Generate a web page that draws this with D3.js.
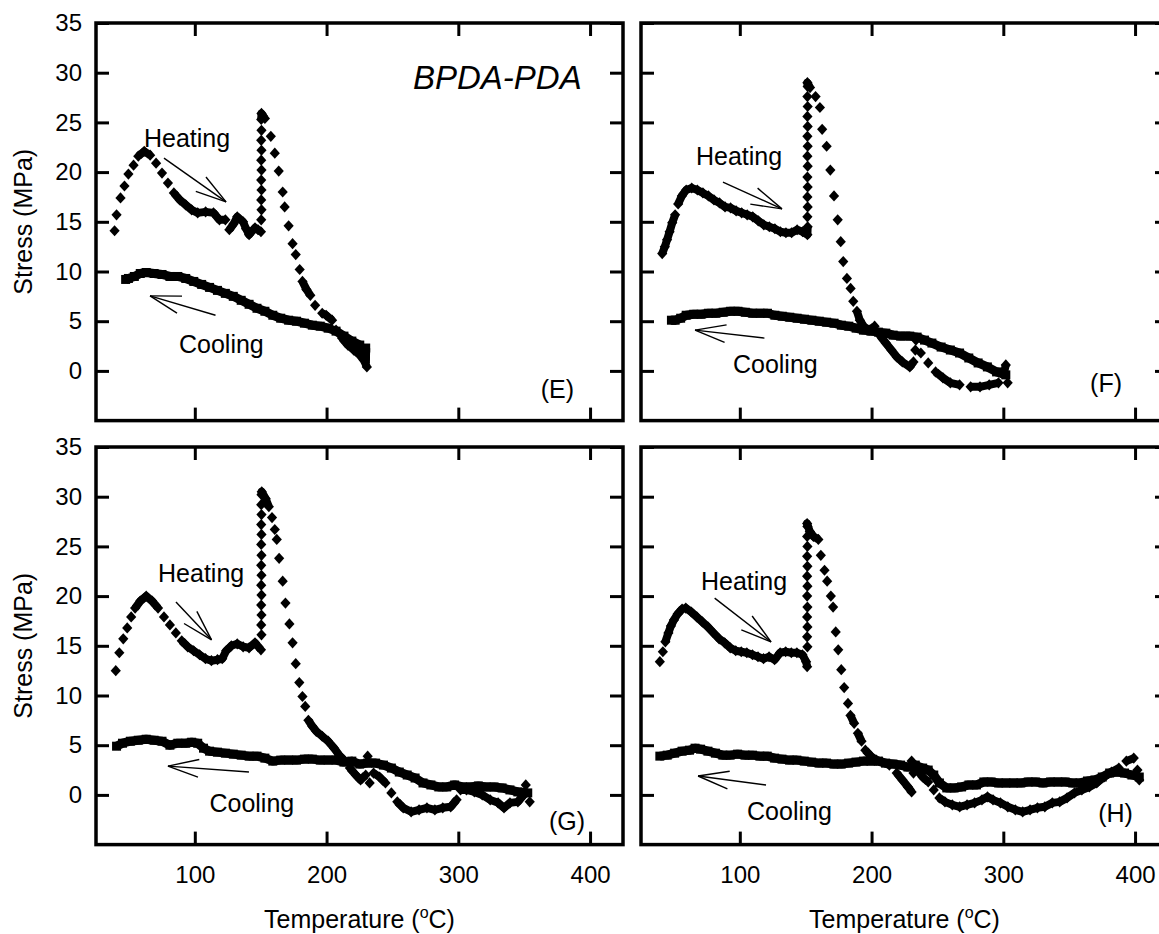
<!DOCTYPE html>
<html>
<head>
<meta charset="utf-8">
<script src="https://cdn.jsdelivr.net/npm/d3@7"></script>
<style>
  body { margin: 0; background: #fff; }
  svg { display: block; }
  text { font-family: "Liberation Sans", Arial, sans-serif; fill: #000; }
</style>
</head>
<body>
<div id="chart-area"></div>
<script>
// axis ticks
var tempTicks = [100, 200, 300, 400];
var stressTicks = [0, 5, 10, 15, 20, 25, 30, 35];

// [temperature (C), stress (MPa)]
var heatE = [[39.1,14.1],[40.6,15.7],[43.6,17.4],[46.6,18.6],[49.6,19.8],[53.5,20.7],[57.1,21.6],[61.6,22.1],[66.1,21.7],[70.6,20.9],
  [75.1,19.9],[79.6,18.9],[84.1,17.9],[88.6,17.2],[93.1,16.7],[97.6,16.2],[102.2,15.9],[108.2,16.0],[114.2,15.9],[118.7,15.2],
  [123.2,15.2],[126.2,14.2],[129.5,14.8],[132.2,15.5],[136.6,15.0],[138.9,14.3],[141.2,13.7],[145.7,14.4],[148.0,14.2],[150.2,14.0],
  [150.4,15.2],[150.6,16.2],[150.4,17.2],[150.6,18.2],[150.4,19.2],[150.6,20.2],[150.4,21.2],[150.6,22.2],[150.4,23.2],
  [150.6,24.2],[150.4,25.3],[150.6,25.9],
  [153.2,25.4],[157.7,23.6],[160.7,21.9],[163.7,20.1],[166.7,18.0],[168.2,16.5],[171.2,14.6],[174.2,12.8],[176.6,11.7],
  [179.6,10.2],[181.7,9.0],[184.7,8.2],[187.7,7.6],[191.3,6.6],[196.7,5.8],[199.7,5.6],[204.2,5.1],[207.2,4.1],[211.7,3.3],
  [216.2,2.6],[220.7,2.1],[225.2,1.6],[228.2,1.1],[230.6,0.4]];
var coolE = [[229.7,2.3],[229.5,1.2],[225.2,2.6],[219.2,3.0],[213.2,3.5],[207.2,4.0],[201.2,4.3],[195.2,4.5],[189.2,4.6],[183.2,4.8],
  [177.2,5.0],[171.2,5.1],[165.2,5.3],[159.2,5.6],[153.2,6.0],[147.2,6.3],[141.2,6.7],[135.2,7.1],[129.2,7.5],[123.2,7.8],
  [117.2,8.1],[111.2,8.4],[105.2,8.7],[99.2,9.0],[93.1,9.3],[87.1,9.5],[81.1,9.5],[75.1,9.7],[69.1,9.8],[63.1,9.9],
  [58.6,9.8],[54.1,9.5],[49.6,9.3],[47.5,9.2]];

var heatF = [[41.1,11.8],[43.1,12.5],[44.8,13.2],[46.7,14.0],[48.7,14.9],[50.9,15.7],[53.2,16.8],[56.0,17.6],[59.3,18.2],[63.5,18.4],
  [67.8,18.2],[72.0,17.9],[76.2,17.6],[80.4,17.2],[84.6,16.9],[88.8,16.5],[93.0,16.4],[97.2,16.1],[101.4,15.9],[105.6,15.7],
  [109.8,15.5],[114.0,15.1],[118.2,14.7],[122.4,14.5],[126.6,14.3],[130.8,14.0],[135.0,13.9],[139.3,13.9],[143.5,14.2],
  [147.7,14.0],[151.3,13.7],
  [151.5,14.5],[151.3,15.5],[151.5,16.5],[151.3,17.5],[151.5,18.5],[151.3,19.5],[151.5,20.6],[151.3,21.6],[151.5,22.6],
  [151.3,23.6],[151.5,24.6],[151.3,25.6],[151.5,26.6],[151.3,27.6],[151.5,28.6],[151.3,29.0],
  [153.3,28.5],[157.5,27.6],[160.8,26.5],[162.5,24.3],[165.9,22.6],[168.7,20.2],[171.5,17.6],[174.3,15.2],[176.6,13.0],
  [178.5,11.0],[181.3,9.3],[184.1,8.3],[186.1,7.0],[188.9,6.0],[191.1,5.1],[193.9,4.5],[198.1,4.1],[202.3,4.5],[206.6,3.5],
  [210.8,2.8],[215.0,2.1],[219.2,1.4],[223.4,0.9],[229.0,0.4],[231.8,0.9],[233.2,2.1],[233.7,3.1],[237.4,1.8],[243.0,0.8],
  [248.6,-0.1],[254.2,-0.7],[259.8,-1.2],[266.8,-1.4],[275.2,-1.6],[282.3,-1.6],[289.3,-1.4],[296.3,-1.2],[300.5,-0.2],
  [301.9,0.6],[303.3,-1.2]];
var coolF = [[301.9,-0.4],[294.9,-0.1],[287.9,0.4],[280.9,0.8],[273.8,1.3],[266.8,1.8],[259.8,2.1],[252.8,2.4],[245.8,2.8],
  [240.2,3.1],[234.6,3.4],[229.0,3.5],[222.0,3.5],[216.4,3.6],[210.8,3.8],[205.2,3.9],[199.5,4.0],[193.9,4.1],[188.3,4.3],
  [182.7,4.5],[177.1,4.6],[171.5,4.8],[165.9,4.9],[160.3,5.0],[154.7,5.1],[149.1,5.2],[143.5,5.3],[137.9,5.4],[132.2,5.5],
  [126.6,5.6],[121.0,5.8],[115.4,5.8],[109.8,5.8],[104.2,5.9],[98.6,6.0],[93.0,6.0],[87.4,5.9],[81.8,5.8],[76.2,5.8],
  [70.6,5.7],[65.0,5.7],[59.3,5.6],[55.1,5.3],[50.9,5.1],[48.1,5.1]];

var heatG = [[40.0,12.5],[42.7,14.3],[45.7,15.7],[48.7,16.8],[51.7,17.9],[54.7,18.8],[58.6,19.5],[63.1,20.0],[67.6,19.5],[72.1,18.8],
  [76.6,17.9],[81.1,17.1],[85.6,16.3],[90.1,15.5],[94.6,14.9],[99.1,14.5],[103.6,14.1],[108.1,13.7],[112.6,13.5],[117.2,13.6],
  [120.8,13.7],[123.8,14.5],[127.7,15.0],[132.2,15.2],[136.7,14.9],[141.2,14.8],[145.7,15.3],[150.2,14.6],
  [150.6,16.1],[150.4,17.1],[150.6,18.1],[150.4,19.1],[150.6,20.1],[150.4,21.1],[150.6,22.1],[150.4,23.1],[150.6,24.1],
  [150.4,25.2],[150.6,26.2],[150.4,27.2],[150.6,28.2],[150.4,29.2],[150.6,30.2],[150.8,30.5],
  [153.8,29.8],[156.2,29.0],[158.6,27.9],[160.7,26.7],[162.2,25.7],[164.0,23.8],[166.7,21.5],[168.8,19.3],[171.8,17.2],
  [174.2,15.3],[176.6,13.2],[179.3,11.3],[181.7,9.9],[183.8,8.9],[186.2,7.5],[189.2,6.9],[192.2,6.4],[196.7,5.9],[201.2,5.4],
  [205.7,4.7],[209.6,4.0],[213.2,3.5],[217.7,2.7],[222.2,2.0],[225.8,1.5],[229.7,2.0],[231.2,3.9],[232.7,1.2],[235.7,2.2],
  [240.2,1.8],[244.7,1.2],[249.2,0.2],[253.7,-0.7],[258.2,-1.3],[264.2,-1.7],[270.2,-1.5],[276.2,-1.3],[282.2,-1.5],
  [288.2,-1.3],[294.2,-1.2],[298.7,-0.5],[301.7,0.5],[306.2,0.5],[312.2,0.3],[318.2,0.0],[324.2,-0.5],[330.2,-0.8],
  [334.7,-1.3],[339.2,-0.8],[345.2,-0.7],[349.7,0.0],[351.2,1.0],[354.2,-0.7]];
var coolG = [[352.7,0.2],[345.2,0.3],[339.2,0.5],[333.2,0.7],[327.2,0.8],[321.2,0.8],[315.2,0.9],[309.2,0.8],[303.2,0.8],
  [297.2,1.0],[291.2,0.8],[285.2,0.8],[279.2,1.0],[273.2,1.2],[267.2,1.7],[261.2,2.0],[255.2,2.3],[249.2,2.7],[243.2,3.0],
  [237.2,3.2],[231.2,3.2],[225.2,3.1],[219.2,3.4],[213.2,3.3],[207.2,3.5],[201.2,3.5],[195.2,3.5],[189.2,3.6],[183.2,3.6],
  [177.2,3.5],[171.2,3.5],[165.2,3.5],[159.2,3.4],[153.2,3.7],[147.2,3.9],[141.2,3.9],[135.2,4.0],[129.2,4.1],[123.2,4.2],
  [117.2,4.3],[111.2,4.4],[106.6,4.7],[102.2,5.2],[97.6,5.3],[93.1,5.2],[87.1,5.2],[81.1,5.0],[75.1,5.4],[69.1,5.5],
  [63.1,5.6],[57.1,5.5],[51.1,5.4],[45.1,5.2],[40.6,4.9]];

var heatH = [[39.3,13.4],[41.6,14.4],[43.5,15.4],[45.8,16.3],[47.7,17.0],[50.0,17.6],[52.8,18.2],[56.2,18.7],[59.0,18.8],[63.2,18.4],
  [67.4,17.9],[71.6,17.4],[75.8,16.9],[80.0,16.3],[84.3,15.7],[88.5,15.3],[92.7,14.8],[96.9,14.5],[101.1,14.4],[105.3,14.3],
  [109.6,14.1],[113.8,13.9],[118.0,13.7],[122.2,13.9],[126.4,13.6],[130.6,14.3],[134.8,14.4],[139.1,14.3],[143.3,14.3],
  [147.5,14.1],[150.3,13.4],[151.1,12.9],
  [151.3,14.9],[151.1,15.9],[151.3,16.9],[151.1,17.9],[151.3,18.9],[151.1,20.0],[151.3,21.0],[151.1,22.0],[151.3,23.0],
  [151.1,24.0],[151.3,25.0],[151.1,26.0],[151.3,27.0],[151.1,27.3],
  [153.1,26.5],[155.9,26.0],[159.6,25.7],[161.5,24.1],[164.3,22.6],[166.3,21.5],[169.1,20.0],[170.8,18.9],[172.8,16.4],
  [174.7,14.6],[177.0,12.6],[179.2,10.8],[182.1,9.2],[184.0,8.0],[186.8,7.2],[189.6,6.2],[192.4,5.4],[195.3,4.5],[199.5,3.9],
  [203.7,3.5],[207.9,3.3],[213.5,3.0],[219.1,2.2],[223.4,1.5],[227.6,0.8],[230.4,0.3],[231.8,2.2],[230.4,3.4],[234.6,2.5],
  [238.8,1.8],[243.0,1.3],[247.2,0.5],[251.5,-0.3],[255.7,-0.7],[261.3,-1.0],[266.9,-1.2],[272.5,-1.0],[278.2,-0.8],
  [283.8,-0.5],[288.0,-0.2],[292.2,-0.5],[297.8,-0.8],[303.4,-1.2],[309.1,-1.5],[314.7,-1.7],[320.3,-1.5],[325.9,-1.3],
  [331.5,-1.2],[337.2,-0.8],[342.8,-0.7],[348.4,-0.3],[354.0,0.2],[359.6,0.5],[365.3,0.8],[370.9,1.2],[376.5,1.8],
  [382.1,2.3],[387.7,2.7],[393.4,3.4],[399.0,3.7],[401.8,2.5],[403.2,1.5]];
var coolH = [[403.2,1.8],[397.6,2.0],[392.0,2.2],[386.3,2.3],[380.7,2.2],[375.1,1.8],[369.5,1.5],[363.9,1.4],[358.2,1.2],
  [352.6,1.2],[347.0,1.3],[341.4,1.3],[335.8,1.3],[330.1,1.2],[324.5,1.3],[318.9,1.3],[313.3,1.2],[307.7,1.2],[302.0,1.2],
  [296.4,1.2],[290.8,1.3],[285.2,1.3],[279.6,1.0],[273.9,1.0],[268.3,0.8],[262.7,0.7],[257.1,0.7],[251.5,1.2],[247.2,2.0],
  [243.0,2.5],[238.8,2.7],[233.2,3.0],[227.6,2.8],[222.0,3.0],[216.3,3.1],[210.7,3.2],[205.1,3.4],[199.5,3.4],[193.9,3.4],
  [188.2,3.3],[182.6,3.2],[177.0,3.1],[171.4,3.1],[165.8,3.2],[160.1,3.2],[154.5,3.3],[148.9,3.4],[143.3,3.5],[137.7,3.5],
  [132.0,3.6],[126.4,3.7],[120.8,3.9],[115.2,3.9],[109.6,4.0],[103.9,4.0],[98.3,4.1],[92.7,4.0],[87.1,4.0],[81.5,4.2],
  [75.8,4.4],[70.2,4.6],[66.0,4.7],[61.8,4.5],[56.2,4.4],[50.5,4.2],[44.9,4.0],[39.3,3.9]];

var tempDomain = [25, 425];
var stressDomain = [-5, 35];

var pw = 527, ph = 397.6;

var panels = [
  {tag:"(E)", tagAt:[387.8,-2.7], heat:heatE, cool:coolE, left:96, top:23, yLabels:true, xLabels:false,
   heatArrow:[[76.6,21.4],[123.7,17.0]], coolArrow:[[115.7,5.6],[66.0,7.55]], heatText:[61.4,22.5], coolText:[88.0,1.8]},
  {tag:"(F)", tagAt:[390.1,-2.1], heat:heatF, cool:coolF, left:641, top:23, yLabels:false, xLabels:false,
   heatArrow:[[87.2,19.0],[132.0,16.3]], coolArrow:[[118.7,3.3],[66.0,4.1]], heatText:[66.7,20.7], coolText:[94.8,-0.2]},
  {tag:"(G)", tagAt:[396.2,-3.5], heat:heatG, cool:coolG, left:96, top:447, yLabels:true, xLabels:true,
   heatArrow:[[85.7,19.4],[112.7,15.6]], coolArrow:[[141.1,2.3],[79.6,2.9]], heatText:[72.1,21.4], coolText:[111.1,-1.7]},
  {tag:"(H)", tagAt:[398.4,-2.7], heat:heatH, cool:coolH, left:641, top:447, yLabels:false, xLabels:true,
   heatArrow:[[80.9,19.8],[123.7,15.4]], coolArrow:[[119.9,1.0],[68.3,1.9]], heatText:[70.5,20.6], coolText:[105.5,-2.5]}
];

var svg = d3.select('#chart-area').append('svg')
    .attr('width', 1159)
    .attr('height', 934);

// joins neighbouring points whose markers already touch, so dense runs read as a band
function bandPath(pts, x, y, gap) {
  var p = d3.path(), prev = null;
  pts.forEach(function(d) {
    var px = x(d[0]), py = y(d[1]);
    if (prev && Math.hypot(px - prev[0], py - prev[1]) < gap) p.lineTo(px, py);
    else p.moveTo(px, py);
    prev = [px, py];
  });
  return p.toString();
}

function arrow(g, a, x, y) {
  var tx = x(a[0][0]), ty = y(a[0][1]), hx = x(a[1][0]), hy = y(a[1][1]);
  var ang = Math.atan2(ty - hy, tx - hx), len = 32, spread = 16 * Math.PI / 180;
  g.append('line').attr('x1', tx).attr('y1', ty).attr('x2', hx).attr('y2', hy);
  [-spread, spread].forEach(function(s) {
    g.append('line').attr('x1', hx).attr('y1', hy)
      .attr('x2', hx + len * Math.cos(ang + s)).attr('y2', hy + len * Math.sin(ang + s));
  });
}

panels.forEach(function(p) {
  var g = svg.append('g').attr('transform', 'translate(' + p.left + ',' + p.top + ')');
  var x = d3.scaleLinear().domain(tempDomain).range([0, pw]);
  var y = d3.scaleLinear().domain(stressDomain).range([ph, 0]);

  // ticks on all four sides, pointing inward
  var bottom = d3.axisBottom(x).tickValues(tempTicks).tickSizeInner(-13).tickSizeOuter(0).tickPadding(21);
  if (!p.xLabels) bottom.tickFormat('');
  var left = d3.axisLeft(y).tickValues(stressTicks).tickSizeInner(-13).tickSizeOuter(0).tickPadding(14);
  if (!p.yLabels) left.tickFormat('');
  var top = d3.axisTop(x).tickValues(tempTicks).tickSizeInner(-13).tickSizeOuter(0).tickFormat('');
  var right = d3.axisRight(y).tickValues(stressTicks).tickSizeInner(-13).tickSizeOuter(0).tickFormat('');

  [[bottom, 'translate(0,' + ph + ')'], [left, null], [top, null], [right, 'translate(' + pw + ',0)']].forEach(function(a) {
    var ax = g.append('g').call(a[0]);
    if (a[1]) ax.attr('transform', a[1]);
    ax.select('.domain').remove();
    ax.selectAll('.tick line').attr('stroke', '#000').attr('stroke-width', 3);
    ax.selectAll('text').attr('font-family', '"Liberation Sans", Arial, sans-serif').attr('font-size', 24).attr('fill', '#000');
  });

  g.append('rect')
    .attr('width', pw).attr('height', ph)
    .attr('fill', 'none').attr('stroke', '#000').attr('stroke-width', 3.5);

  // cooling: squares
  g.append('path').attr('d', bandPath(p.cool, x, y, 30))
    .attr('fill', 'none').attr('stroke', '#000').attr('stroke-width', 9).attr('stroke-linejoin', 'round');
  g.selectAll('.sq').data(p.cool).enter().append('rect').attr('class', 'sq')
    .attr('x', function(d) { return x(d[0]) - 4.5; })
    .attr('y', function(d) { return y(d[1]) - 4.5; })
    .attr('width', 9).attr('height', 9).attr('fill', '#000');

  // heating: diamonds
  g.append('path').attr('d', bandPath(p.heat, x, y, 9.5))
    .attr('fill', 'none').attr('stroke', '#000').attr('stroke-width', 8).attr('stroke-linejoin', 'round');
  g.selectAll('.dm').data(p.heat).enter().append('path').attr('class', 'dm')
    .attr('transform', function(d) { return 'translate(' + x(d[0]) + ',' + y(d[1]) + ')'; })
    .attr('d', 'M0,-5.6L5.1,0L0,5.6L-5.1,0Z').attr('fill', '#000');

  // annotations
  var ann = g.append('g').attr('stroke', '#000').attr('stroke-width', 1.4);
  arrow(ann, p.heatArrow, x, y);
  arrow(ann, p.coolArrow, x, y);

  g.append('text').attr('x', x(p.heatText[0])).attr('y', y(p.heatText[1]))
    .attr('font-size', 25).text('Heating');
  g.append('text').attr('x', x(p.coolText[0])).attr('y', y(p.coolText[1]))
    .attr('font-size', 25).text('Cooling');
  g.append('text').attr('x', x(p.tagAt[0])).attr('y', y(p.tagAt[1]))
    .attr('font-size', 25).attr('text-anchor', 'end').text(p.tag);

  if (p.tag === '(E)') {
    g.append('text').attr('x', x(265.6)).attr('y', y(28.4))
      .attr('font-size', 33).attr('font-style', 'italic').text('BPDA-PDA');
  }

  if (p.yLabels) {
    svg.append('text')
      .attr('transform', 'translate(32,' + (p.top + ph / 2) + ') rotate(-90)')
      .attr('text-anchor', 'middle').attr('font-size', 25)
      .text('Stress (MPa)');
  }
  if (p.xLabels) {
    var t = svg.append('text')
      .attr('x', p.left + pw / 2).attr('y', p.top + ph + 83)
      .attr('text-anchor', 'middle').attr('font-size', 25);
    t.append('tspan').text('Temperature (');
    t.append('tspan').attr('font-size', 16).attr('dy', -10).text('o');
    t.append('tspan').attr('dy', 10).text('C)');
  }
});
</script>
</body>
</html>
